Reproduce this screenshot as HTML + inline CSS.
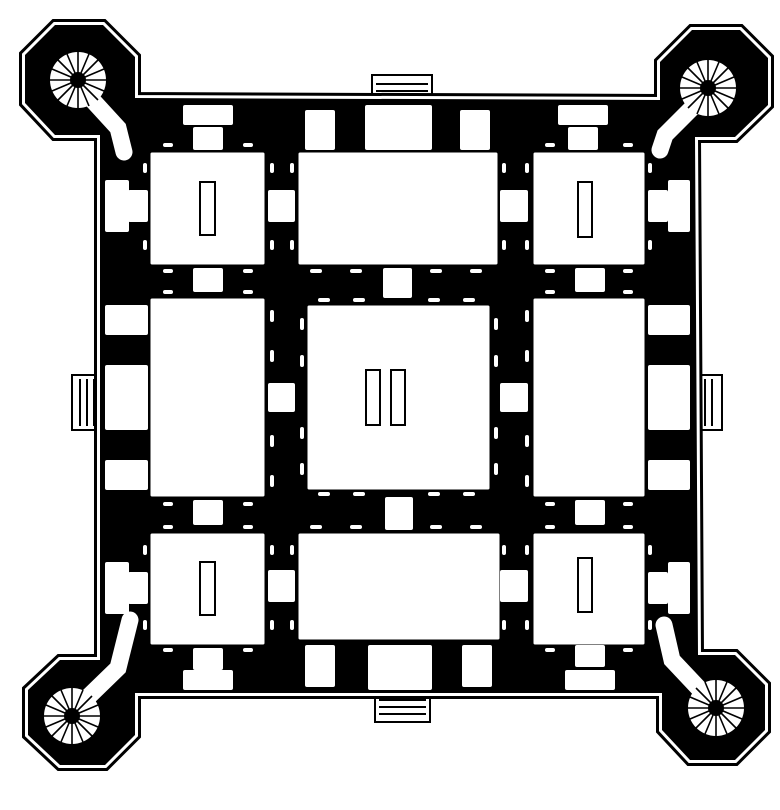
<!DOCTYPE html>
<html><head><style>html,body{margin:0;padding:0;background:#fff}svg{display:block}</style></head>
<body>
<svg width="780" height="810" viewBox="0 0 780 810" xmlns="http://www.w3.org/2000/svg">
<defs>
<g id="sp">
  <circle r="28" fill="#fff"/>
  <g stroke="#000" stroke-width="1.6">
    <line x1="0" y1="0" x2="28" y2="0"/><line x1="0" y1="0" x2="26" y2="11"/><line x1="0" y1="0" x2="20" y2="20"/><line x1="0" y1="0" x2="11" y2="26"/>
    <line x1="0" y1="0" x2="0" y2="28"/><line x1="0" y1="0" x2="-11" y2="26"/><line x1="0" y1="0" x2="-20" y2="20"/><line x1="0" y1="0" x2="-26" y2="11"/>
    <line x1="0" y1="0" x2="-28" y2="0"/><line x1="0" y1="0" x2="-26" y2="-11"/><line x1="0" y1="0" x2="-20" y2="-20"/><line x1="0" y1="0" x2="-11" y2="-26"/>
    <line x1="0" y1="0" x2="0" y2="-28"/><line x1="0" y1="0" x2="11" y2="-26"/><line x1="0" y1="0" x2="20" y2="-20"/><line x1="0" y1="0" x2="26" y2="-11"/>
  </g>
  <circle r="8" fill="#000"/>
</g>
</defs>
<rect width="780" height="810" fill="#fff"/>
<!-- entrances -->
<g fill="#fff" stroke="#000" stroke-width="2">
  <rect x="372" y="75" width="60" height="30"/>
  <rect x="375" y="690" width="55" height="32"/>
  <rect x="72" y="375" width="32" height="55"/>
  <rect x="690" y="375" width="32" height="55"/>
</g>
<g stroke="#000" stroke-width="2">
  <line x1="376" y1="84" x2="428" y2="84"/><line x1="376" y1="91" x2="428" y2="91"/><line x1="376" y1="98" x2="428" y2="98"/>
  <line x1="379" y1="700" x2="426" y2="700"/><line x1="379" y1="707" x2="426" y2="707"/><line x1="379" y1="714" x2="426" y2="714"/>
  <line x1="80" y1="379" x2="80" y2="426"/><line x1="87" y1="379" x2="87" y2="426"/><line x1="94" y1="379" x2="94" y2="426"/>
  <line x1="698" y1="379" x2="698" y2="426"/><line x1="705" y1="379" x2="705" y2="426"/><line x1="712" y1="379" x2="712" y2="426"/>
</g>
<!-- body -->
<path id="body" d="M100,135 L55,135 L25,103 L25,55 L55,25 L103,25 L135,57 L135,98 L660,100 L660,62 L692,30 L740,30 L768,58 L768,105 L735,137 L695,137 L698,655 L735,655 L765,685 L765,730 L735,760 L690,760 L662,730 L662,693 L135,693 L135,735 L105,765 L60,765 L28,735 L28,690 L60,660 L100,660 Z" fill="#000" stroke="#000" stroke-width="12" stroke-linejoin="miter"/>
<path d="M100,135 L55,135 L25,103 L25,55 L55,25 L103,25 L135,57 L135,98 L660,100 L660,62 L692,30 L740,30 L768,58 L768,105 L735,137 L695,137 L698,655 L735,655 L765,685 L765,730 L735,760 L690,760 L662,730 L662,693 L135,693 L135,735 L105,765 L60,765 L28,735 L28,690 L60,660 L100,660 Z" fill="none" stroke="#fff" stroke-width="6" stroke-linejoin="miter"/>
<path d="M100,135 L55,135 L25,103 L25,55 L55,25 L103,25 L135,57 L135,98 L660,100 L660,62 L692,30 L740,30 L768,58 L768,105 L735,137 L695,137 L698,655 L735,655 L765,685 L765,730 L735,760 L690,760 L662,730 L662,693 L135,693 L135,735 L105,765 L60,765 L28,735 L28,690 L60,660 L100,660 Z" fill="#000" stroke="none" transform="translate(0,0)"/>
<!-- inner black to cover white band inside -->
<g fill="#000">
  <rect x="104" y="104" width="586" height="585"/>
</g>
<!-- diagonal bars -->
<g stroke="#fff" stroke-width="17" stroke-linecap="round" fill="none">
  <polyline points="85,92 118,128 124,152"/>
  <polyline points="700,100 665,135 660,150"/>
  <polyline points="85,700 118,668 130,620"/>
  <polyline points="705,695 672,660 664,625"/>
</g>
<use href="#sp" x="78" y="80"/>
<use href="#sp" x="708" y="88"/>
<use href="#sp" x="72" y="716"/>
<use href="#sp" x="716" y="708"/>
<!-- rooms -->
<g fill="#fff" stroke="#000" stroke-width="1">
  <rect x="150" y="152" width="115" height="113" rx="2"/>
  <rect x="298" y="152" width="200" height="113" rx="2"/>
  <rect x="533" y="152" width="112" height="113" rx="2"/>
  <rect x="150" y="298" width="115" height="199" rx="2"/>
  <rect x="307" y="305" width="183" height="185" rx="2"/>
  <rect x="533" y="298" width="112" height="199" rx="2"/>
  <rect x="150" y="533" width="115" height="112" rx="2"/>
  <rect x="298" y="533" width="202" height="107" rx="2"/>
  <rect x="533" y="533" width="112" height="112" rx="2"/>
</g>
<g fill="none" stroke="#000" stroke-width="2">
  <rect x="200" y="182" width="15" height="53"/>
  <rect x="578" y="182" width="14" height="55"/>
  <rect x="366" y="370" width="14" height="55"/>
  <rect x="391" y="370" width="14" height="55"/>
  <rect x="200" y="562" width="15" height="53"/>
  <rect x="578" y="558" width="14" height="54"/>
</g>
<!-- small blocks -->
<g fill="#fff">
  <rect x="183" y="105" width="50" height="20" rx="2"/><rect x="193" y="127" width="30" height="23" rx="2"/>
  <rect x="305" y="110" width="30" height="40" rx="2"/><rect x="460" y="110" width="30" height="40" rx="2"/>
  <rect x="365" y="105" width="67" height="45" rx="2"/>
  <rect x="558" y="105" width="50" height="20" rx="2"/><rect x="568" y="127" width="30" height="23" rx="2"/>
  <rect x="268" y="190" width="27" height="32" rx="2"/><rect x="500" y="190" width="28" height="32" rx="2"/>
  <rect x="105" y="180" width="24" height="52" rx="2"/><rect x="128" y="190" width="20" height="32" rx="2"/>
  <rect x="648" y="190" width="20" height="32" rx="2"/><rect x="668" y="180" width="22" height="52" rx="2"/>
  <rect x="193" y="268" width="30" height="24" rx="2"/><rect x="383" y="268" width="29" height="30" rx="2"/><rect x="575" y="268" width="30" height="24" rx="2"/>
  <rect x="105" y="305" width="43" height="30" rx="2"/><rect x="105" y="460" width="43" height="30" rx="2"/><rect x="105" y="365" width="43" height="65" rx="2"/>
  <rect x="648" y="305" width="42" height="30" rx="2"/><rect x="648" y="460" width="42" height="30" rx="2"/><rect x="648" y="365" width="42" height="65" rx="2"/>
  <rect x="268" y="383" width="27" height="29" rx="2"/><rect x="500" y="383" width="28" height="29" rx="2"/>
  <rect x="193" y="500" width="30" height="25" rx="2"/><rect x="385" y="497" width="28" height="33" rx="2"/><rect x="575" y="500" width="30" height="25" rx="2"/>
  <rect x="268" y="570" width="27" height="32" rx="2"/><rect x="500" y="570" width="28" height="32" rx="2"/>
  <rect x="105" y="562" width="24" height="52" rx="2"/><rect x="128" y="572" width="20" height="32" rx="2"/>
  <rect x="648" y="572" width="20" height="32" rx="2"/><rect x="668" y="562" width="22" height="52" rx="2"/>
  <rect x="193" y="648" width="30" height="22" rx="2"/><rect x="183" y="670" width="50" height="20" rx="2"/>
  <rect x="305" y="645" width="30" height="42" rx="2"/><rect x="462" y="645" width="30" height="42" rx="2"/>
  <rect x="368" y="645" width="64" height="45" rx="2"/>
  <rect x="575" y="645" width="30" height="22" rx="2"/><rect x="565" y="670" width="50" height="20" rx="2"/>
</g>
<!-- dashes -->
<g fill="#fff">
  <rect x="163" y="143" width="10" height="4" rx="2"/><rect x="243" y="143" width="10" height="4" rx="2"/>
  <rect x="545" y="143" width="10" height="4" rx="2"/><rect x="623" y="143" width="10" height="4" rx="2"/>
  <rect x="163" y="269" width="10" height="4" rx="2"/><rect x="243" y="269" width="10" height="4" rx="2"/>
  <rect x="310" y="269" width="12" height="4" rx="2"/><rect x="350" y="269" width="12" height="4" rx="2"/><rect x="430" y="269" width="12" height="4" rx="2"/><rect x="470" y="269" width="12" height="4" rx="2"/>
  <rect x="545" y="269" width="10" height="4" rx="2"/><rect x="623" y="269" width="10" height="4" rx="2"/>
  <rect x="163" y="290" width="10" height="4" rx="2"/><rect x="243" y="290" width="10" height="4" rx="2"/>
  <rect x="545" y="290" width="10" height="4" rx="2"/><rect x="623" y="290" width="10" height="4" rx="2"/>
  <rect x="318" y="298" width="12" height="4" rx="2"/><rect x="353" y="298" width="12" height="4" rx="2"/><rect x="428" y="298" width="12" height="4" rx="2"/><rect x="463" y="298" width="12" height="4" rx="2"/>
  <rect x="318" y="492" width="12" height="4" rx="2"/><rect x="353" y="492" width="12" height="4" rx="2"/><rect x="428" y="492" width="12" height="4" rx="2"/><rect x="463" y="492" width="12" height="4" rx="2"/>
  <rect x="310" y="525" width="12" height="4" rx="2"/><rect x="350" y="525" width="12" height="4" rx="2"/><rect x="430" y="525" width="12" height="4" rx="2"/><rect x="470" y="525" width="12" height="4" rx="2"/>
  <rect x="163" y="502" width="10" height="4" rx="2"/><rect x="243" y="502" width="10" height="4" rx="2"/>
  <rect x="545" y="502" width="10" height="4" rx="2"/><rect x="623" y="502" width="10" height="4" rx="2"/>
  <rect x="163" y="525" width="10" height="4" rx="2"/><rect x="243" y="525" width="10" height="4" rx="2"/>
  <rect x="545" y="525" width="10" height="4" rx="2"/><rect x="623" y="525" width="10" height="4" rx="2"/>
  <rect x="163" y="648" width="10" height="4" rx="2"/><rect x="243" y="648" width="10" height="4" rx="2"/>
  <rect x="545" y="648" width="10" height="4" rx="2"/><rect x="623" y="648" width="10" height="4" rx="2"/>
  <rect x="270" y="163" width="4" height="10" rx="2"/><rect x="290" y="163" width="4" height="10" rx="2"/><rect x="270" y="240" width="4" height="10" rx="2"/><rect x="290" y="240" width="4" height="10" rx="2"/>
  <rect x="502" y="163" width="4" height="10" rx="2"/><rect x="525" y="163" width="4" height="10" rx="2"/><rect x="502" y="240" width="4" height="10" rx="2"/><rect x="525" y="240" width="4" height="10" rx="2"/>
  <rect x="270" y="310" width="4" height="12" rx="2"/><rect x="270" y="350" width="4" height="12" rx="2"/><rect x="270" y="435" width="4" height="12" rx="2"/><rect x="270" y="475" width="4" height="12" rx="2"/>
  <rect x="300" y="318" width="4" height="12" rx="2"/><rect x="300" y="355" width="4" height="12" rx="2"/><rect x="300" y="427" width="4" height="12" rx="2"/><rect x="300" y="463" width="4" height="12" rx="2"/>
  <rect x="494" y="318" width="4" height="12" rx="2"/><rect x="494" y="355" width="4" height="12" rx="2"/><rect x="494" y="427" width="4" height="12" rx="2"/><rect x="494" y="463" width="4" height="12" rx="2"/>
  <rect x="525" y="310" width="4" height="12" rx="2"/><rect x="525" y="350" width="4" height="12" rx="2"/><rect x="525" y="435" width="4" height="12" rx="2"/><rect x="525" y="475" width="4" height="12" rx="2"/>
  <rect x="270" y="545" width="4" height="10" rx="2"/><rect x="290" y="545" width="4" height="10" rx="2"/><rect x="270" y="620" width="4" height="10" rx="2"/><rect x="290" y="620" width="4" height="10" rx="2"/>
  <rect x="502" y="545" width="4" height="10" rx="2"/><rect x="525" y="545" width="4" height="10" rx="2"/><rect x="502" y="620" width="4" height="10" rx="2"/><rect x="525" y="620" width="4" height="10" rx="2"/>
  <rect x="143" y="163" width="4" height="10" rx="2"/><rect x="143" y="240" width="4" height="10" rx="2"/>
  <rect x="648" y="163" width="4" height="10" rx="2"/><rect x="648" y="240" width="4" height="10" rx="2"/>
  <rect x="143" y="545" width="4" height="10" rx="2"/><rect x="143" y="620" width="4" height="10" rx="2"/>
  <rect x="648" y="545" width="4" height="10" rx="2"/><rect x="648" y="620" width="4" height="10" rx="2"/>
</g>
</svg>
</body></html>
